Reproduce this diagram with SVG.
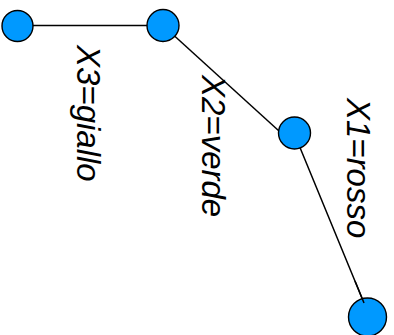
<svg xmlns="http://www.w3.org/2000/svg" width="394" height="335" viewBox="0 0 394 335">
  <style>
    .node { fill: #0099ff; stroke: #000; stroke-width: 1.4; }
    .edge { stroke: #000; stroke-width: 1.5; fill: none; }
    .label { font-family: "Liberation Sans", Arial, sans-serif; font-style: italic; font-size: 33px; fill: #000; }
  </style>
  <rect width="394" height="335" fill="#fff"/>

  <!-- connectors drawn below the first three nodes -->
  <g id="connectors">
    <line class="edge" x1="17" y1="25.5" x2="163" y2="25.5"/>
    <line class="edge" x1="163" y1="25.5" x2="279" y2="131"/>
    <line class="edge" x1="294" y1="133" x2="364" y2="303"/>
  </g>

  <g id="n1"><circle class="node" cx="17.5" cy="26" r="15.5"/></g>
  <g id="n2"><circle class="node" cx="163" cy="25.5" r="16"/></g>
  <g id="n3"><circle class="node" cx="294.5" cy="133" r="16"/></g>
  <!-- last node sits under its incoming connector -->
  <g id="n4"><circle class="node" cx="367.5" cy="317" r="19"/></g>
  <line class="edge" x1="355" y1="281" x2="364" y2="303"/>

  <g id="labels">
    <text class="label" transform="translate(77,45) rotate(90)">X3=giallo</text>
    <text class="label" transform="translate(202,75) rotate(90)">X2=verde</text>
    <text class="label" transform="translate(347,98) rotate(90)">X1=rosso</text>
  </g>
</svg>
